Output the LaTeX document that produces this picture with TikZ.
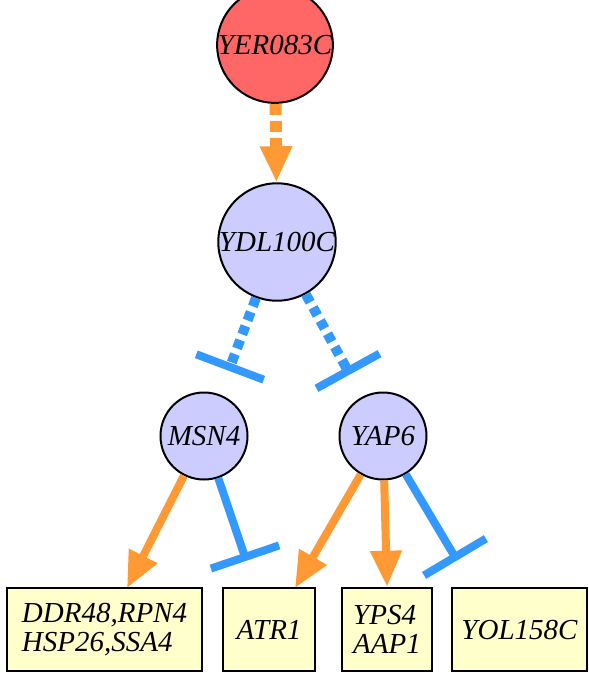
\documentclass[tikz,border=0pt]{standalone}
\usepackage{fontspec}
\setmainfont{Liberation Serif}
\usetikzlibrary{arrows.meta,calc}
\definecolor{srcred}{HTML}{FF6666}
\definecolor{tflav}{HTML}{CCCCFF}
\definecolor{boxyellow}{HTML}{FFFFCC}
\definecolor{actorange}{HTML}{FF9933}
\definecolor{inhblue}{HTML}{3399FF}
\begin{document}
\begin{tikzpicture}[x=1pt,y=-1pt,
  gene/.style={circle, draw=black, line width=2pt, minimum size=87pt, inner sep=0pt,
    font=\fontsize{29}{29}\selectfont\itshape},
  target/.style={rectangle, draw=black, line width=2.5pt, fill=boxyellow, minimum height=83pt,
    inner sep=0pt, align=left, font=\fontsize{29}{29}\selectfont\itshape},
  act/.style={draw=actorange, line width=8pt, -{Triangle[length=36pt,width=30pt]}},
  dashact/.style={act, line width=12pt, dash pattern=on 11pt off 6pt},
  inh/.style={draw=inhblue, line width=8pt},
  dashinh/.style={inh, line width=10pt, dash pattern=on 9pt off 6pt},
  inhbar/.style={draw=inhblue, line width=8pt}
]
\useasboundingbox (0,0) rectangle (589,673);

% nodes
\node[gene, fill=srcred] (yer) at (275,45) {YER083C};
\node[gene, fill=tflav] (ydl) at (277,242) {YDL100C};
\node[gene, fill=tflav] (msn) at (204,436) {MSN4};
\node[gene, fill=tflav] (yap) at (383,436) {YAP6};

\node[target, minimum width=195pt] (b1) at (104.5,629.5) {DDR48,RPN4\\HSP26,SSA4};
\node[target, minimum width=92pt] (b2) at (269,629.5) {ATR1};
\node[target, minimum width=90pt] (b3) at (387,629.5) {YPS4\\AAP1};
\node[target, minimum width=135pt] (b4) at (519.5,629.5) {YOL158C};

% free ends
\coordinate (t1) at (127,588);
\coordinate (t2) at (295,588);
\coordinate (iL) at (230,367);
\coordinate (iR) at (348,371);
\coordinate (iM) at (245,557);
\coordinate (iY) at (455,557);

% activations
\draw[dashact] (yer) -- (ydl);
\draw[act] (msn) -- (t1);
\draw[act] (yap) -- (t2);
\draw[act] (yap) -- (b3.north);

% inhibitions
\draw[dashinh] (ydl) -- (iL);
\draw[inhbar] ($(iL)!36pt!90:(ydl)$) -- ($(iL)!36pt!-90:(ydl)$);
\draw[dashinh] (ydl) -- (iR);
\draw[inhbar] ($(iR)!36pt!90:(ydl)$) -- ($(iR)!36pt!-90:(ydl)$);
\draw[inh] (msn) -- (iM);
\draw[inhbar] ($(iM)!36pt!90:(msn)$) -- ($(iM)!36pt!-90:(msn)$);
\draw[inh] (yap) -- (iY);
\draw[inhbar] ($(iY)!36pt!90:(yap)$) -- ($(iY)!36pt!-90:(yap)$);
\end{tikzpicture}
\end{document}
